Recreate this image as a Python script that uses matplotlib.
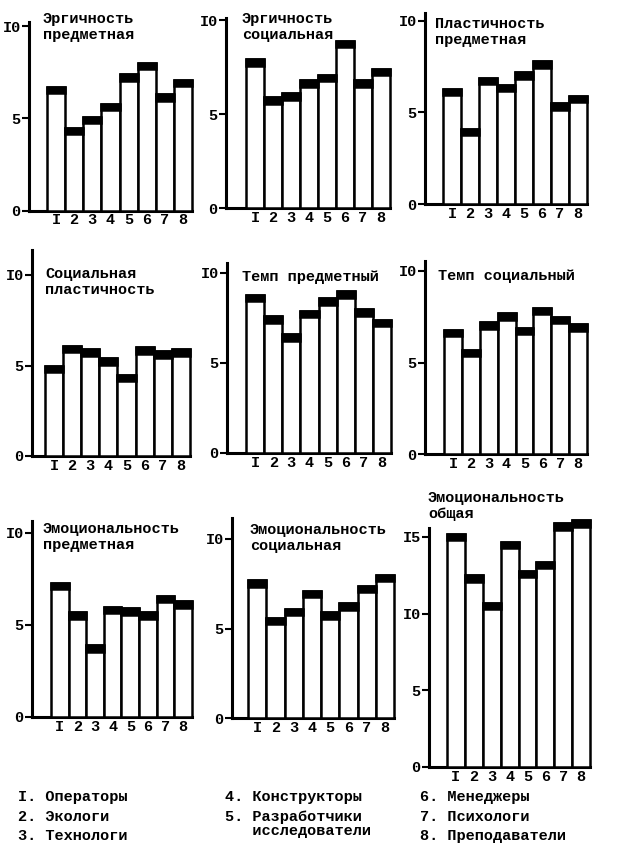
import matplotlib.pyplot as plt
import numpy as np

plt.rcParams['font.family'] = ['Liberation Mono', 'DejaVu Sans Mono']
plt.rcParams['font.weight'] = 'bold'

# groups 1..8 (typewriter "I" for one)
groups = ['I', '2', '3', '4', '5', '6', '7', '8']

titles = ['Эргичность\nпредметная', 'Эргичность\nсоциальная', 'Пластичность\nпредметная',
          'Социальная\nпластичность', 'Темп предметный', 'Темп социальный',
          'Эмоциональность\nпредметная', 'Эмоциональность\nсоциальная', 'Эмоциональность\nобщая']

ergic_subj = [6.7, 4.5, 5.1, 5.8, 7.4, 8.0, 6.3, 7.1]
ergic_soc = [7.9, 5.9, 6.1, 6.8, 7.1, 8.9, 6.8, 7.4]
plast_subj = [6.3, 4.1, 6.9, 6.5, 7.2, 7.8, 5.5, 5.9]
plast_soc = [5.0, 6.1, 5.9, 5.4, 4.5, 6.0, 5.8, 5.9]
temp_subj = [8.8, 7.6, 6.6, 7.9, 8.6, 9.0, 8.0, 7.4]
temp_soc = [6.8, 5.7, 7.2, 7.7, 6.9, 8.0, 7.5, 7.1]
emo_subj = [7.3, 5.7, 3.9, 6.0, 5.9, 5.7, 6.6, 6.3]
emo_soc = [7.7, 5.6, 6.1, 7.1, 5.9, 6.4, 7.4, 8.0]
emo_total = [15.2, 12.5, 10.7, 14.7, 12.8, 13.4, 15.9, 16.1]

series = [ergic_subj, ergic_soc, plast_subj, plast_soc, temp_subj, temp_soc,
          emo_subj, emo_soc, emo_total]

legend_items = ['I. Операторы', '2. Экологи', '3. Технологи',
                '4. Конструкторы', '5. Разработчики\n   исследователи',
                '6. Менеджеры', '7. Психологи', '8. Преподаватели']

W, H = 624, 860
fig = plt.figure(figsize=(W / 100, H / 100), dpi=100)

# pixel layout: axis x, bars start, bars end, zero y, axis top y, top tick y, top tick value
layout = [
    (29, 47, 192, 210.7, 22, 26, 10),
    (226, 246, 390, 208, 18, 20, 10),
    (425, 443, 587, 204, 13, 20.7, 10),
    (32, 45, 190, 456, 250, 275, 10),
    (227, 246, 391, 453, 263, 273, 10),
    (425, 444, 587, 454, 261, 271, 10),
    (32, 51, 192, 717, 521, 533, 10),
    (232, 248, 394, 718, 518, 539, 10),
    (429, 447, 590, 767, 528, 537, 15),
]
# title top-left positions in pixels
title_pos = [(43, 12), (242, 12), (435, 17), (45, 267), (242, 270), (438, 269),
             (43, 522), (250, 523), (428, 491)]

x = np.arange(1, len(groups) + 1)
cap_px = 6.5

for vals, (ax_x, b0, b1, zy, ty, y10, tv), title, (tx, tyy) in zip(series, layout, titles, title_pos):
    ax = fig.add_axes([ax_x / W, 1 - zy / H, (b1 - ax_x) / W, (zy - ty) / H])
    bw = (b1 - b0) / 8.0
    ppu = (zy - y10) / tv
    ax.set_xlim(0.5 - (b0 - ax_x) / bw, 8.5)
    ax.set_ylim(0, (zy - ty) / ppu)
    vals = np.array(vals)
    cap = cap_px / ppu
    ax.bar(x, vals, width=1.0, color='white', edgecolor='black', linewidth=1.8,
           zorder=3, clip_on=False)
    ax.bar(x, np.full(len(vals), cap), bottom=vals - cap, width=1.0, color='black',
           edgecolor='black', linewidth=1.8, zorder=4, clip_on=False)
    for s in ['top', 'right']:
        ax.spines[s].set_visible(False)
    for s in ['left', 'bottom']:
        ax.spines[s].set_linewidth(2.2)
    yt = [0, 5, 10] if tv == 10 else [0, 5, 10, 15]
    ax.set_yticks(yt)
    ax.set_yticklabels([str(v).replace('1', 'I') for v in yt], fontsize=11, fontweight='bold')
    ax.tick_params(axis='y', length=5, width=1.5, pad=1)
    ax.set_xticks(x)
    ax.set_xticklabels(groups, fontsize=11, fontweight='bold')
    ax.tick_params(axis='x', length=0, pad=2)
    fig.text(tx / W, 1 - tyy / H, title, fontsize=11, fontweight='bold',
             ha='left', va='top', linespacing=1.15)

# bottom key
cols = [18, 225, 420]
rows = [790, 810, 829]
slots = [(0, 0), (0, 1), (0, 2), (1, 0), (1, 1), (2, 0), (2, 1), (2, 2)]
for item, (c, r) in zip(legend_items, slots):
    fig.text(cols[c] / W, 1 - rows[r] / H, item, fontsize=11, fontweight='bold',
             ha='left', va='top', linespacing=1.0)

fig.savefig('out.png', dpi=100)
